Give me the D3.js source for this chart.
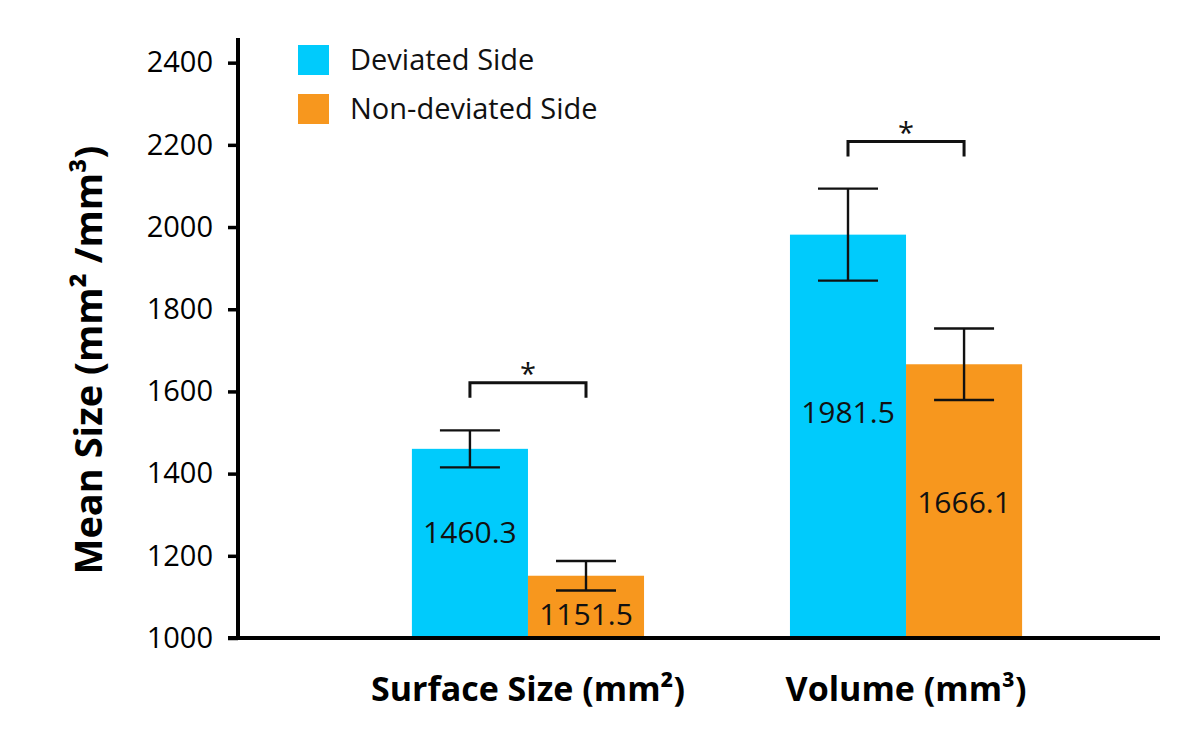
<!DOCTYPE html>
<html>
<head>
<meta charset="utf-8">
<script src="https://cdn.jsdelivr.net/npm/d3@7"></script>
<style>
  html, body { margin: 0; padding: 0; background: #fff; }
  svg { display: block; font-family: "Open Sans", sans-serif; }
</style>
</head>
<body>
<svg id="chart" width="1200" height="733"></svg>
<script>
// ---- data ----
const categories = ["Surface Size (mm²)", "Volume (mm³)"];
const seriesNames = ["Deviated Side", "Non-deviated Side"];
const deviated = [1460.3, 1981.5];
const nonDeviated = [1151.5, 1666.1];
const deviatedErr = [45, 112];
const nonDeviatedErr = [36, 87];
const bracketLevel = [1621, 2208];
const yTicks = [1000, 1200, 1400, 1600, 1800, 2000, 2200, 2400];

// ---- layout / style ----
const colors = ["#00CBFC", "#F7971E"];
const labelPos = [[1231, 1032], [1523, 1304]]; // data-space baseline of value labels
const axisX = 238, axisBottom = 638, axisRight = 1160;

const svg = d3.select("#chart");

const y = d3.scaleLinear().domain([1000, 2460]).range([axisBottom, 38]);
const x0 = d3.scaleBand().domain(categories).range([axisX, 1196])
  .paddingInner(0.386).paddingOuter(0.46);
const x1 = d3.scaleBand().domain(seriesNames).range([0, x0.bandwidth()]).padding(0);

const values = [deviated, nonDeviated];
const errs = [deviatedErr, nonDeviatedErr];

const bars = [];
categories.forEach((c, i) => {
  seriesNames.forEach((s, j) => {
    bars.push({cat: c, ser: s, ci: i, si: j, v: values[j][i], e: errs[j][i], lp: labelPos[i][j]});
  });
});

// bars
svg.append("g").selectAll("rect").data(bars).join("rect")
  .attr("x", d => x0(d.cat) + x1(d.ser))
  .attr("y", d => y(d.v))
  .attr("width", x1.bandwidth())
  .attr("height", d => y(1000) - y(d.v))
  .attr("fill", d => colors[d.si]);

// error bars
const eg = svg.append("g").attr("stroke", "#111").attr("stroke-width", 2.4);
bars.forEach(d => {
  const cx = x0(d.cat) + x1(d.ser) + x1.bandwidth() / 2;
  const capW = 30;
  eg.append("line").attr("x1", cx).attr("x2", cx).attr("y1", y(d.v + d.e)).attr("y2", y(d.v - d.e));
  eg.append("line").attr("x1", cx - capW).attr("x2", cx + capW).attr("y1", y(d.v + d.e)).attr("y2", y(d.v + d.e));
  eg.append("line").attr("x1", cx - capW).attr("x2", cx + capW).attr("y1", y(d.v - d.e)).attr("y2", y(d.v - d.e));
});

// value labels
svg.append("g").selectAll("text").data(bars).join("text")
  .attr("x", d => x0(d.cat) + x1(d.ser) + x1.bandwidth() / 2)
  .attr("y", d => y(d.lp))
  .attr("text-anchor", "middle")
  .attr("font-size", 30)
  .attr("fill", "#111")
  .text(d => d.v.toFixed(1));

// significance brackets
categories.forEach((c, i) => {
  const xl = x0(c) + x1(seriesNames[0]) + x1.bandwidth() / 2;
  const xr = x0(c) + x1(seriesNames[1]) + x1.bandwidth() / 2;
  const by = y(bracketLevel[i]);
  svg.append("path")
    .attr("d", `M${xl},${by + 15}V${by}H${xr}V${by + 15}`)
    .attr("fill", "none").attr("stroke", "#111").attr("stroke-width", 3);
  svg.append("text")
    .attr("x", (xl + xr) / 2).attr("y", by + 1)
    .attr("text-anchor", "middle").attr("font-size", 29).attr("fill", "#111")
    .text("*");
});

// y axis
const yAxis = d3.axisLeft(y).tickValues(yTicks).tickFormat(d3.format("d"))
  .tickSize(10).tickSizeOuter(0).tickPadding(15);
const yg = svg.append("g").attr("transform", `translate(${axisX},0)`).call(yAxis);
yg.select(".domain").remove();
yg.selectAll(".tick line").attr("stroke", "#000").attr("stroke-width", 3.5);
yg.selectAll(".tick text").attr("font-size", 29).attr("fill", "#000")
  .attr("font-family", "Open Sans, sans-serif");
svg.append("line").attr("x1", axisX).attr("x2", axisX).attr("y1", 38).attr("y2", axisBottom + 1.75)
  .attr("stroke", "#000").attr("stroke-width", 4);
svg.append("line").attr("x1", axisX - 10).attr("x2", axisRight).attr("y1", axisBottom).attr("y2", axisBottom)
  .attr("stroke", "#000").attr("stroke-width", 4);

// x category labels
svg.append("g").selectAll("text").data(categories).join("text")
  .attr("x", d => x0(d) + x0.bandwidth() / 2)
  .attr("y", 701)
  .attr("text-anchor", "middle")
  .attr("font-size", 34).attr("font-weight", "bold").attr("fill", "#000")
  .text(d => d);

// y title
svg.append("text")
  .attr("transform", "translate(102,360) rotate(-90)")
  .attr("text-anchor", "middle")
  .attr("font-size", 38).attr("font-weight", "bold").attr("fill", "#000")
  .text("Mean Size (mm² /mm³)");

// legend
const lg = svg.append("g");
seriesNames.forEach((s, i) => {
  lg.append("rect").attr("x", 298).attr("y", 45 + i * 49).attr("width", 31).attr("height", 30).attr("fill", colors[i]);
  lg.append("text").attr("x", 350).attr("y", 70 + i * 49).attr("font-size", 29).attr("fill", "#111").text(s);
});
</script>
</body>
</html>
